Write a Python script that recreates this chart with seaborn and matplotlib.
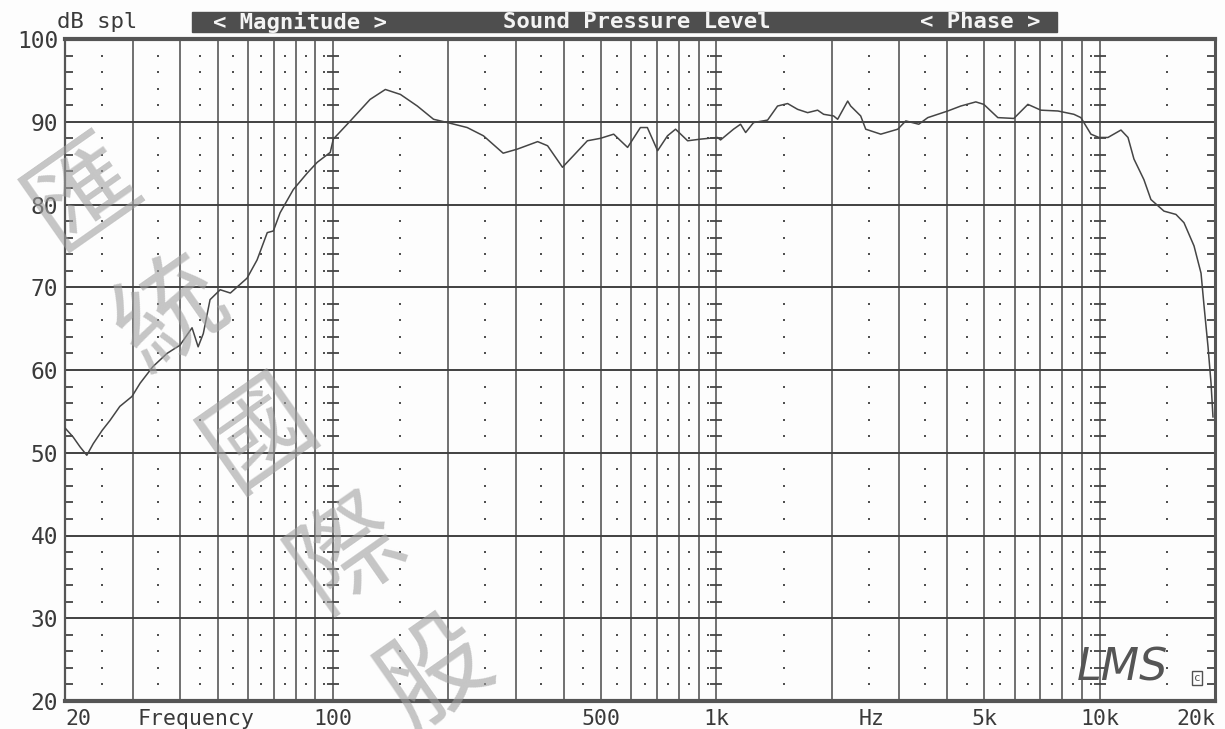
import numpy as np
import pandas as pd
import matplotlib
matplotlib.use("Agg")
import matplotlib.pyplot as plt
from matplotlib.patches import Rectangle
import seaborn as sns

# frequency response (Hz, dB spl)
freq_hz = [20, 21.0, 21.9, 22.8, 23.7, 25.0, 26.2, 27.8, 29.9, 31.4, 33.9, 36.9, 39.9,
           42.9, 44.5, 45.9, 47.8, 50.8, 54.0, 59.7, 63.4, 67.4, 69.9, 72.8, 78.8, 85.7,
           91.0, 98.4, 100.2, 111, 125, 137, 150, 166, 183, 199, 224, 247, 278, 303, 342,
           363, 397, 424, 461, 499, 540, 587, 634, 661, 703, 746, 783, 842, 910, 1008,
           1026, 1109, 1157, 1193, 1251, 1361, 1445, 1535, 1630, 1731, 1838, 1906, 2024,
           2073, 2202, 2242, 2381, 2454, 2686, 2975, 3121, 3375, 3563, 4017, 4344, 4754,
           4988, 5426, 5974, 6499, 7027, 7785, 8568, 8936, 9491, 9958, 10514, 11370,
           11860, 12290, 13050, 13610, 14720, 15820, 16600, 17630, 18390, 18730, 19180,
           19530, 19760]
spl_db = [53.0, 51.9, 50.7, 49.7, 51.1, 52.7, 53.9, 55.6, 56.8, 58.4, 60.4, 62.0, 63.0,
          65.1, 62.8, 64.4, 68.5, 69.7, 69.3, 71.1, 73.3, 76.6, 76.8, 79.0, 81.8, 83.8,
          85.1, 86.3, 87.9, 90.1, 92.7, 93.9, 93.3, 91.9, 90.3, 89.9, 89.3, 88.3, 86.2,
          86.7, 87.6, 87.1, 84.5, 85.9, 87.7, 88.0, 88.5, 86.9, 89.3, 89.3, 86.5, 88.3,
          89.1, 87.7, 87.9, 88.1, 87.8, 89.1, 89.7, 88.7, 89.9, 90.2, 91.9, 92.2, 91.5,
          91.1, 91.4, 90.9, 90.7, 90.3, 92.5, 91.9, 90.7, 89.1, 88.5, 89.1, 90.1, 89.7,
          90.5, 91.3, 91.9, 92.4, 92.1, 90.5, 90.4, 92.1, 91.4, 91.3, 90.9, 90.5, 88.5,
          88.1, 88.1, 89.0, 88.1, 85.5, 83.0, 80.6, 79.2, 78.8, 77.8, 75.0, 71.7, 67.7,
          62.8, 58.4, 54.3]

x_tick_pos = [20, 44, 100, 500, 1000, 2540, 5000, 10000, 20000]
x_tick_labels = ['20', 'Frequency', '100', '500', '1k', 'Hz', '5k', '10k', '20k']
y_ticks = [20, 30, 40, 50, 60, 70, 80, 90, 100]

watermark_chars = ['匯', '統', '國', '際', '股']

df = pd.DataFrame({'freq': freq_hz, 'spl': spl_db})

sns.set_theme(style="white")
plt.rcParams['font.family'] = ['DejaVu Sans Mono', 'Noto Sans CJK TC']

ink = '#3a3a3a'
fig = plt.figure(figsize=(12.25, 7.29), dpi=100)
fig.patch.set_facecolor('#fdfdfd')
W, H = 1225, 729
ax = fig.add_axes([65 / W, (H - 701) / H, (1215 - 65) / W, (701 - 39) / H])
ax.set_facecolor('#fdfdfd')
ax.set_xscale('log')
ax.set_xlim(20, 20000)
ax.set_ylim(20, 100)

# solid grid: 2..9 of each decade plus decades, and every 10 dB
for d in [10, 100, 1000, 10000]:
    for m in range(1, 10):
        f = m * d
        if 20 < f < 20000:
            ax.axvline(f, color='#4a4a4a', lw=1.1, zorder=1)
for y in y_ticks[1:-1]:
    ax.axhline(y, color='#404040', lw=1.4, zorder=1)

# dotted columns halfway between the solid lines, one dot every 2 dB
dot_x = []
for d in [10, 100, 1000, 10000]:
    for m in range(1, 10):
        f = (m + 0.5) * d
        if 20 < f < 20000:
            dot_x.append(f)
dot_y = [v for v in range(22, 100, 2) if v % 10]
gx, gy = np.meshgrid(dot_x, dot_y)
ax.plot(gx.ravel(), gy.ravel(), ls='none', marker='s', ms=1.8, mew=0,
        color='#505050', zorder=1)
# dashes across the decade lines
dx, dy = np.meshgrid([100, 1000, 10000], dot_y)
ax.plot(dx.ravel(), dy.ravel(), ls='none', marker='_', ms=9, mew=1.3,
        color='#444444', zorder=1)

sns.lineplot(data=df, x='freq', y='spl', ax=ax, color='#454545', lw=1.1,
             estimator=None, sort=False, zorder=3)

ax.set_xlabel('')
ax.set_ylabel('')
ax.set_xticks(x_tick_pos)
ax.set_xticklabels(x_tick_labels)
ax.xaxis.set_minor_locator(matplotlib.ticker.NullLocator())
ax.set_yticks(y_ticks)
ax.set_yticklabels([str(v) for v in y_ticks])
ax.set_yticks(dot_y, minor=True)
ax.tick_params(axis='x', which='both', length=0, pad=6, labelsize=15.5, labelcolor=ink)
ax.tick_params(axis='y', which='major', length=0, pad=5, labelsize=16.5, labelcolor=ink)
ax.tick_params(axis='y', which='minor', direction='in', length=6, width=1.3,
               color='#444444', left=True, right=True)
labels = ax.get_xticklabels()
labels[0].set_horizontalalignment('left')
labels[-1].set_horizontalalignment('right')

for side, lw in [('top', 3.0), ('bottom', 3.0), ('left', 1.6), ('right', 2.2)]:
    ax.spines[side].set_visible(True)
    ax.spines[side].set_color('#555555')
    ax.spines[side].set_linewidth(lw)

# header strip
fig.patches.append(Rectangle((192 / W, (H - 32) / H), (1057 - 192) / W, 20 / H,
                             transform=fig.transFigure, color='#4e4e4e', zorder=0))
fig.text(57 / W, (H - 22) / H, 'dB spl', fontsize=16, color=ink, va='center')
for txt, cx in [('< Magnitude >', 300), ('Sound Pressure Level', 637), ('< Phase >', 980)]:
    fig.text(cx / W, (H - 22) / H, txt, fontsize=16, weight='bold', color='#f4f4f4',
             ha='center', va='center')

# LMS logo
fig.text(1122 / W, (H - 668) / H, 'LMS', fontsize=32, style='italic', color='#555555',
         family='DejaVu Sans', ha='center', va='center', zorder=6)
fig.text(1197 / W, (H - 678) / H, 'c', fontsize=8, color='#505050', ha='center', va='center',
         bbox=dict(boxstyle='square,pad=0.15', fc='none', ec='#505050', lw=1))

# diagonal watermark
for i, ch in enumerate(watermark_chars):
    cx, cy = 84 + 88 * i, 195 + 120 * i
    fig.text(cx / W, (H - cy) / H, ch, fontsize=78, rotation=35, rotation_mode='anchor',
             ha='center', va='center', family='Noto Sans CJK TC', weight='medium',
             color='#a0a0a0', alpha=0.6, zorder=10)

fig.savefig('out.png', dpi=100, facecolor=fig.get_facecolor())
